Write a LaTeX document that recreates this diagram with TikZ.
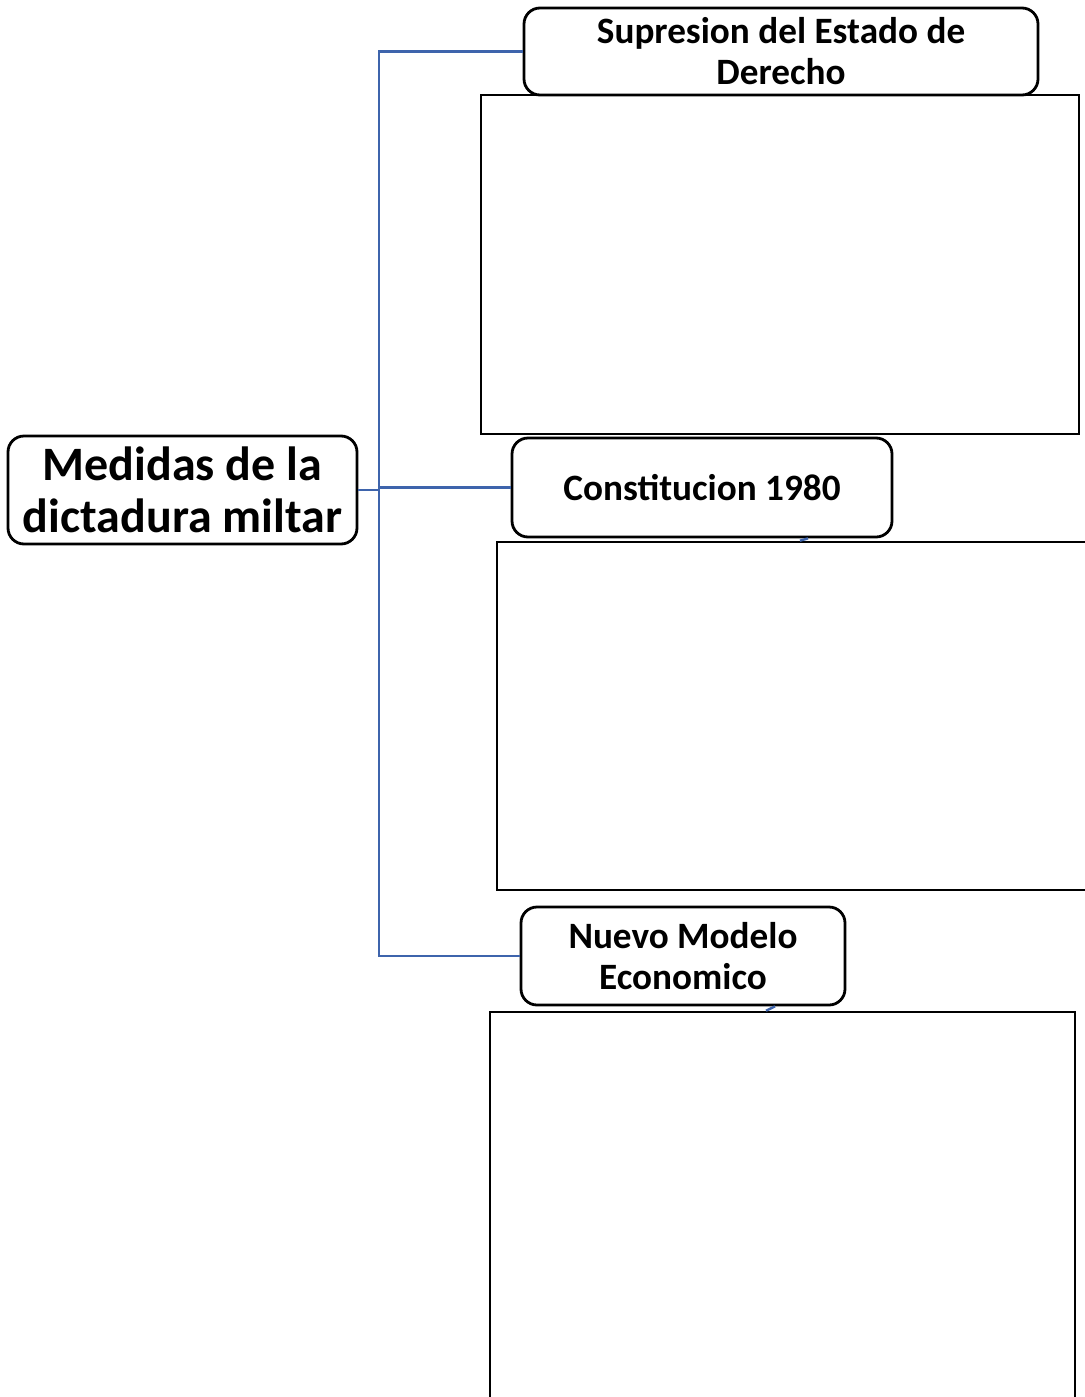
\documentclass[tikz,border=0pt]{standalone}
\usepackage{fontspec}
\setmainfont{Carlito}
\usepackage{tikz}

\definecolor{linkblue}{RGB}{62,100,172}

\begin{document}
\begin{tikzpicture}[x=0.5pt, y=-0.5pt,
  title/.style={draw, line width=1.4pt, rounded corners=8pt, fill=white, align=center, font=\bfseries\fontsize{18.6}{20.5}\selectfont, inner sep=0pt},
  content/.style={draw, line width=1.3pt, inner sep=0pt},
  link/.style={draw=linkblue, line width=1.2pt}]
\useasboundingbox (0, 0) rectangle (1085, 1397);
\clip (0, 0) rectangle (1085, 1397);
\node[title, minimum width=174.5pt, minimum height=54pt, font=\bfseries\fontsize{24}{26}\selectfont] (root) at (182.5, 490) {Medidas de la\\dictadura miltar};
\node[content, minimum width=299pt, minimum height=169.5pt] (c1) at (780, 264.5) {};
\node[content, minimum width=297.5pt, minimum height=174pt] (c2) at (794.5, 716) {};
\node[content, minimum width=292.5pt, minimum height=196.5pt] (c3) at (782.5, 1208.5) {};
\node[title, minimum width=257pt, minimum height=43.5pt] (t1) at (781, 51.5) {Supresion del Estado de\\Derecho};
\node[title, minimum width=190pt, minimum height=49.5pt] (t2) at (702, 487.5) {Constitucion 1980};
\node[title, minimum width=162pt, minimum height=49pt] (t3) at (683, 956) {Nuevo Modelo\\Economico};
\coordinate (j) at (379, 490);
\draw[link] (root.east) -- (j);
\draw[link] (j) |- (t1.west);
\draw[link] (j |- t2.west) -- (t2.west);
\draw[link] (j) |- (t3.west);
\draw[link] (c2.north -| 800,0) -- (t2.south -| 808,0);
\draw[link] (c3.north -| 766,0) -- (t3.south -| 775,0);
\end{tikzpicture}
\end{document}
